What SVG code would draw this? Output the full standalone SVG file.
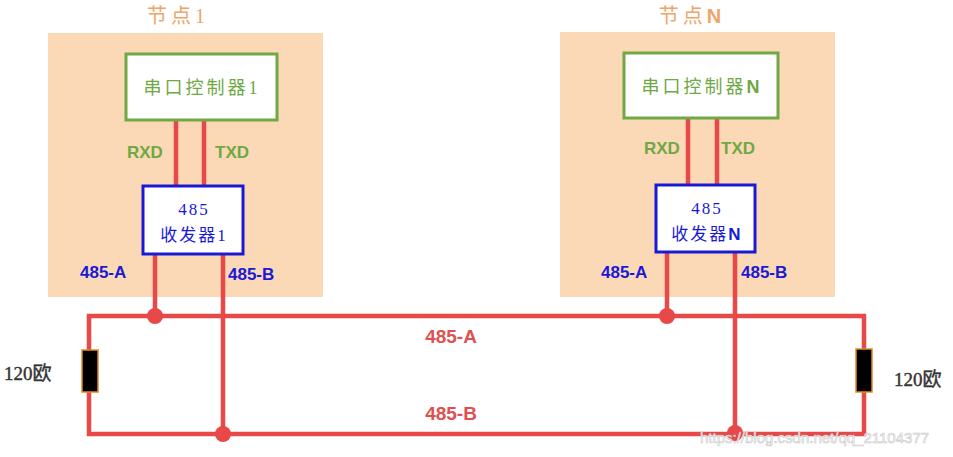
<svg xmlns="http://www.w3.org/2000/svg" width="953" height="457" viewBox="0 0 953 457">
<style>
.bg{fill:#fcd9b6;}
.ctrl{fill:#fff;stroke:#6fa844;stroke-width:3;}
.xcvr{fill:#fff;stroke:#1a1ad6;stroke-width:3;}
.wire{stroke:#e84848;stroke-width:4.5;fill:none;}
.dot{fill:#e84848;}
.res{fill:#000;stroke:#e08a1e;stroke-width:1.5;}
.title{font-family:"Liberation Serif","Noto Sans CJK SC",serif;font-size:20px;fill:#f0a468;text-anchor:middle;letter-spacing:4px;}
.ctext{font-family:"Liberation Serif","Noto Sans CJK SC",serif;font-size:18px;fill:#6fa844;text-anchor:middle;letter-spacing:3px;}
.xtext{font-family:"Liberation Serif","Noto Sans CJK SC",serif;font-size:17px;fill:#1a1ad6;text-anchor:middle;letter-spacing:2px;}
.glab{font-family:"Liberation Sans",Arial,sans-serif;font-weight:bold;font-size:17px;fill:#6fa844;}
.blab{font-family:"Liberation Sans",Arial,sans-serif;font-weight:bold;font-size:17px;fill:#1a1ad6;}
.rlab{font-family:"Liberation Sans",Arial,sans-serif;font-weight:bold;font-size:19px;fill:#e05050;text-anchor:middle;}
.ohm{font-family:"Liberation Serif","Noto Sans CJK SC",serif;font-size:19px;fill:#333;stroke:#333;stroke-width:0.4;}
.wm{font-family:"Liberation Sans",Arial,sans-serif;font-size:15px;fill:#ffffff;stroke:#c8c8c8;stroke-width:0.6;}
</style>
<g id="node1">
<rect class="bg" x="48" y="33" width="275" height="264"/>
<text class="title" x="178" y="23">节点1</text>
</g>
<g id="nodeN">
<rect class="bg" x="560" y="32" width="275" height="265"/>
<text class="title" x="692" y="23">节点<tspan font-family="Liberation Sans" font-weight="bold">N</tspan></text>
</g>
<g id="connectors">
<line class="wire" x1="176" y1="120" x2="176" y2="186"/>
<line class="wire" x1="204" y1="120" x2="204" y2="186"/>
<line class="wire" x1="688" y1="118" x2="688" y2="185"/>
<line class="wire" x1="717" y1="118" x2="717" y2="185"/>
<line class="wire" x1="155" y1="254" x2="155" y2="316"/>
<line class="wire" x1="223" y1="254" x2="223" y2="434"/>
<line class="wire" x1="667" y1="252" x2="667" y2="316"/>
<line class="wire" x1="735" y1="252" x2="735" y2="434"/>
<path class="wire" d="M89 350 V316 H864 V350"/>
<path class="wire" d="M89 392 V434 H864 V392"/>
<circle class="dot" cx="155" cy="316" r="8"/>
<circle class="dot" cx="223" cy="434" r="8"/>
<circle class="dot" cx="667" cy="316" r="8"/>
<circle class="dot" cx="735" cy="433" r="8"/>
<text class="glab" x="127" y="158">RXD</text>
<text class="glab" x="215" y="158">TXD</text>
<text class="glab" x="644" y="154">RXD</text>
<text class="glab" x="721" y="154">TXD</text>
<text class="blab" x="80" y="278">485-A</text>
<text class="blab" x="228" y="280">485-B</text>
<text class="blab" x="601" y="278">485-A</text>
<text class="blab" x="741" y="278">485-B</text>
<text class="rlab" x="451" y="343">485-A</text>
<text class="rlab" x="451" y="420">485-B</text>
</g>
<g id="ctrl1">
<rect class="ctrl" x="126" y="54" width="151" height="66"/>
<text class="ctext" x="202" y="94">串口控制器1</text>
</g>
<g id="xcvr1">
<rect class="xcvr" x="143" y="186" width="100" height="68"/>
<text class="xtext" x="194" y="215">485</text>
<text class="xtext" x="194" y="241">收发器1</text>
</g>
<g id="ctrlN">
<rect class="ctrl" x="624" y="53" width="154" height="65"/>
<text class="ctext" x="702" y="93">串口控制器<tspan font-family="Liberation Sans" font-weight="bold">N</tspan></text>
</g>
<g id="xcvrN">
<rect class="xcvr" x="656" y="185" width="99" height="67"/>
<text class="xtext" x="707" y="214">485</text>
<text class="xtext" x="707" y="240">收发器<tspan font-family="Liberation Sans" font-weight="bold">N</tspan></text>
</g>
<g id="resL">
<rect class="res" x="82" y="350" width="16" height="42"/>
<text class="ohm" x="4" y="380">120欧</text>
</g>
<g id="resR">
<rect class="res" x="856" y="349" width="16" height="43"/>
<text class="ohm" x="894" y="386">120欧</text>
</g>
<text class="wm" x="700" y="443">https://blog.csdn.net/qq_21104377</text>
</svg>
